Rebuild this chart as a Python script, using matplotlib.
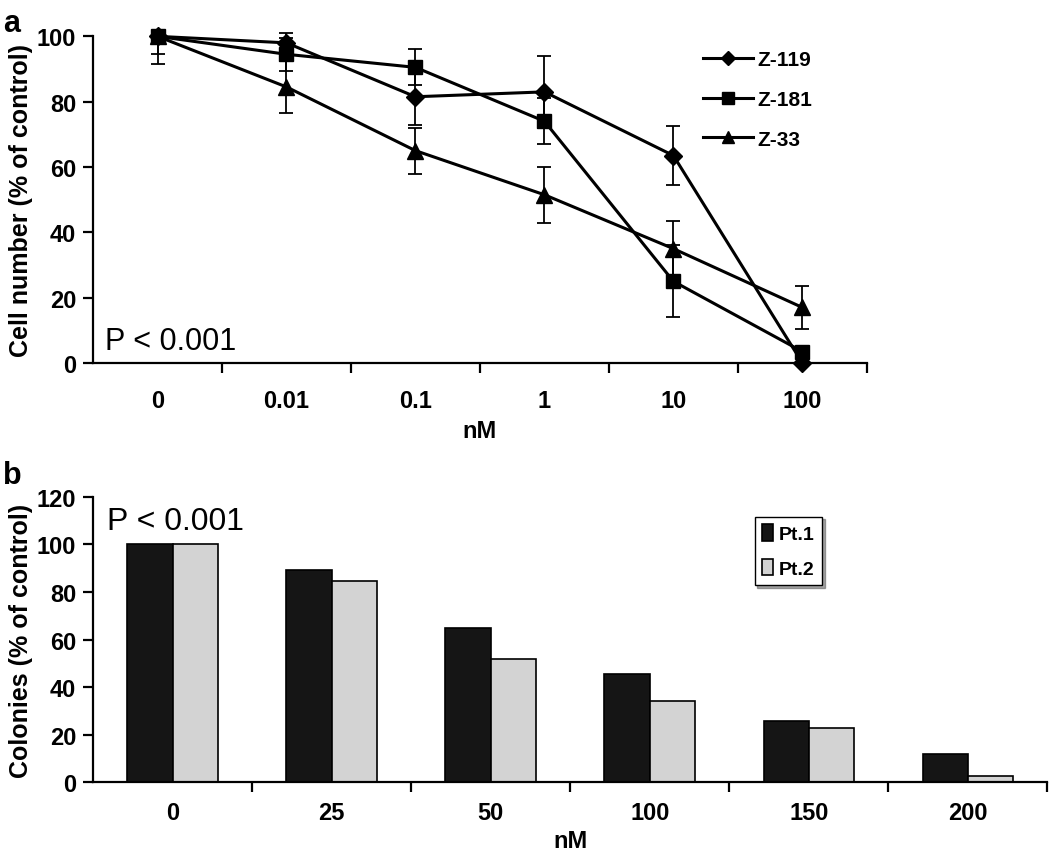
import numpy as np
import matplotlib.pyplot as plt

# panel a
doses_a = ["0", "0.01", "0.1", "1", "10", "100"]
z119 = [100, 98, 81.5, 83, 63.5, 0]
z119_err = [0, 3, 8.5, 11, 9, 0]
z181 = [100, 94.5, 90.5, 74, 25, 3.5]
z181_err = [5.5, 5, 5.5, 7, 11, 0]
z33 = [100, 84.5, 65, 51.5, 35, 17]
z33_err = [8.5, 8, 7, 8.5, 8.5, 6.5]

# panel b
doses_b = ["0", "25", "50", "100", "150", "200"]
pt1 = [100, 89.3, 65, 45.5, 25.5, 12]
pt2 = [100, 84.7, 52, 34, 22.6, 2.5]

plt.rcParams["font.family"] = ["Liberation Sans", "DejaVu Sans"]
narrow = ["Liberation Sans Narrow", "Liberation Sans", "DejaVu Sans"]
TICK_FS = 17

fig = plt.figure(figsize=(10.5, 8.62), dpi=100)
ax1 = fig.add_axes([0.0886, 0.5777, 0.737, 0.379])
ax2 = fig.add_axes([0.0886, 0.0916, 0.909, 0.3307])


def style_axes(ax, labels, ymax, ystep, xpad):
    n = len(labels)
    for s in ["top", "right"]:
        ax.spines[s].set_visible(False)
    for s in ["left", "bottom"]:
        ax.spines[s].set_linewidth(1.6)
    ax.set_xlim(-0.5, n - 0.5)
    ax.set_ylim(0, ymax)
    ax.set_yticks(np.arange(0, ymax + 1, ystep))
    ax.set_xticks(np.arange(n))
    ax.set_xticklabels(labels)
    ax.set_xticks(np.arange(0.5, n, 1), minor=True)
    ax.tick_params(axis="x", which="major", length=0, pad=xpad)
    ax.tick_params(axis="x", which="minor", length=7, width=1.6, direction="out")
    ax.tick_params(axis="y", length=7, width=1.6, direction="out", pad=5)
    for lab in ax.get_xticklabels() + ax.get_yticklabels():
        lab.set_fontweight("bold")
        lab.set_fontsize(TICK_FS)


x = np.arange(len(doses_a))
series = [
    (z119, z119_err, "D", 9, "Z-119"),
    (z181, z181_err, "s", 10, "Z-181"),
    (z33, z33_err, "^", 11, "Z-33"),
]
handles = []
for y, e, m, ms, lab in series:
    lower = np.array(e, dtype=float)
    upper = lower.copy()
    upper[0] = 0  # control point only has a downward bar
    h = ax1.errorbar(x, y, yerr=[lower, upper], color="black", lw=2.2, marker=m,
                     ms=ms, capsize=5, elinewidth=1.3, capthick=1.3,
                     clip_on=False, zorder=3)
    handles.append(h[0])
style_axes(ax1, doses_a, 100, 20, 19)
ax1.set_ylabel("Cell number (% of control)", fontsize=18, fontweight="bold", labelpad=3)
ax1.set_xlabel("nM", fontsize=17, fontweight="bold", labelpad=5)
ax1.text(0.015, 0.02, "P < 0.001", transform=ax1.transAxes, fontsize=22,
         family=narrow, va="bottom", ha="left")
ax1.legend(handles, [s[4] for s in series], loc="upper left",
           bbox_to_anchor=(0.775, 0.99), frameon=False, borderpad=0,
           handlelength=2.4, handletextpad=0.2, labelspacing=1.0,
           markerscale=0.8, prop={"weight": "bold", "size": 15})

xb = np.arange(len(doses_b))
w = 0.285
ax2.bar(xb - w / 2, pt1, w, color="#151515", edgecolor="black", lw=1.2, label="Pt.1")
ax2.bar(xb + w / 2, pt2, w, color="#d3d3d3", edgecolor="black", lw=1.2, label="Pt.2")
style_axes(ax2, doses_b, 120, 20, 14)
ax2.set_ylabel("Colonies (% of control)", fontsize=18, fontweight="bold", labelpad=3)
ax2.set_xlabel("nM", fontsize=17, fontweight="bold", labelpad=3)
ax2.text(0.015, 0.97, "P < 0.001", transform=ax2.transAxes, fontsize=23,
         family=narrow, va="top", ha="left")
leg2 = ax2.legend(loc="upper left", bbox_to_anchor=(0.683, 0.965), fancybox=False,
                  shadow=True, edgecolor="black", handlelength=0.55, handleheight=0.9,
                  handletextpad=0.3, labelspacing=0.8, borderpad=0.4,
                  prop={"weight": "bold", "size": 14})
leg2.get_frame().set_linewidth(1.0)

fig.text(0.003, 0.99, "a", fontsize=22, fontweight="bold", va="top")
fig.text(0.003, 0.465, "b", fontsize=22, fontweight="bold", va="top")

fig.savefig("out.png", dpi=100)
